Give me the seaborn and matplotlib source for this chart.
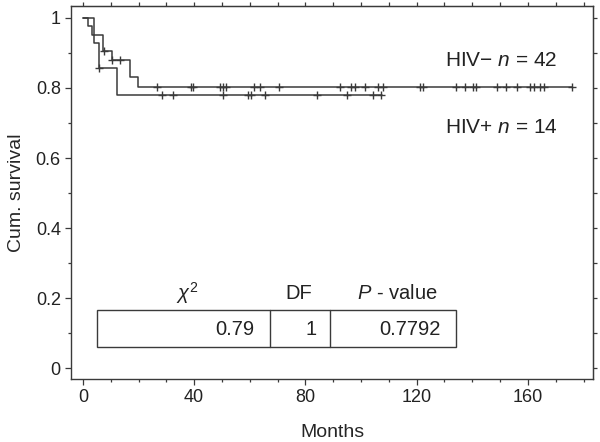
import numpy as np
import pandas as pd
import matplotlib
matplotlib.use('Agg')
import matplotlib.pyplot as plt
from matplotlib.patches import Rectangle
from matplotlib.ticker import MultipleLocator, FormatStrFormatter
import seaborn as sns

# Kaplan-Meier steps: (months, cumulative survival)
NEG_TIMES = [0, 1.9, 3.1, 7.3, 10.3, 16.9, 19.9, 175.7]
NEG_SURV = [1.0, 0.976, 0.952, 0.905, 0.881, 0.830, 0.803, 0.803]
POS_TIMES = [0, 4.0, 5.8, 12.3, 107.6]
POS_SURV = [1.0, 0.929, 0.857, 0.779, 0.779]

# censored observations (months)
NEG_CENSOR = [7.7, 10.5, 13.5, 26.5, 38.8, 39.6, 49.4, 50.3, 51.4, 61.4, 63.8,
              70.5, 92.5, 96.3, 98.0, 101.3, 106.1, 107.8, 121.2, 122.1, 134.2,
              137.3, 140.1, 141.3, 149.0, 152.1, 156.0, 160.8, 162.1, 164.2,
              165.8, 175.7]
POS_CENSOR = [5.8, 28.4, 32.3, 50.3, 59.3, 60.5, 65.4, 84.2, 95.0, 104.2, 107.3]

TABLE_HEADERS = [r'$\chi^2$', 'DF', r'$P$ - value']
TABLE_VALUES = ['0.79', '1', '0.7792']

LINE_COLOR = '#3a3a3a'
TEXT_COLOR = '#222222'


def step_value(times, surv, t):
    """Survival level of the step curve at time t."""
    idx = np.searchsorted(times, t, side='right') - 1
    return np.asarray(surv)[idx]


sns.set_style('ticks')
plt.rcParams['font.family'] = ['Liberation Sans', 'DejaVu Sans']
plt.rcParams['mathtext.fontset'] = 'custom'
plt.rcParams['mathtext.rm'] = 'Liberation Sans'
plt.rcParams['mathtext.it'] = 'Liberation Sans:italic'
plt.rcParams['text.color'] = TEXT_COLOR

fig = plt.figure(figsize=(6, 4.42), dpi=100)
ax = fig.add_axes([0.1183, 0.1425, 0.87, 0.8439])

for times, surv, cens in [(NEG_TIMES, NEG_SURV, NEG_CENSOR), (POS_TIMES, POS_SURV, POS_CENSOR)]:
    curve = pd.DataFrame({'months': times, 'surv': surv})
    sns.lineplot(data=curve, x='months', y='surv', drawstyle='steps-post', estimator=None,
                 sort=False, color=LINE_COLOR, linewidth=1.1, ax=ax)
    marks = pd.DataFrame({'months': cens, 'surv': step_value(times, surv, cens)})
    sns.scatterplot(data=marks, x='months', y='surv', marker='+', color=LINE_COLOR,
                    s=40, linewidth=1.0, ax=ax, zorder=3)

ax.set_xlim(-4.3, 183.4)
ax.set_ylim(-0.031, 1.034)
ax.xaxis.set_major_locator(MultipleLocator(40))
ax.xaxis.set_minor_locator(MultipleLocator(10))
ax.yaxis.set_major_locator(MultipleLocator(0.2))
ax.yaxis.set_minor_locator(MultipleLocator(0.1))
ax.yaxis.set_major_formatter(FormatStrFormatter('%g'))
ax.tick_params(which='major', length=4.3, width=0.9, labelsize=13, colors=LINE_COLOR,
               labelcolor=TEXT_COLOR, pad=3)
ax.tick_params(which='minor', length=2.2, width=0.9, colors=LINE_COLOR)
for sp in ax.spines.values():
    sp.set_visible(True)
    sp.set_color(LINE_COLOR)
    sp.set_linewidth(1.0)

# unlabelled ticks along the top and right edges
top = ax.secondary_xaxis('top')
top.xaxis.set_major_locator(MultipleLocator(10))
top.tick_params(length=3, width=0.9, colors=LINE_COLOR, labeltop=False)
top.spines['top'].set_color(LINE_COLOR)
right = ax.secondary_yaxis('right')
right.yaxis.set_major_locator(MultipleLocator(0.1))
right.tick_params(length=3, width=0.9, colors=LINE_COLOR, labelright=False)
right.spines['right'].set_color(LINE_COLOR)

ax.set_xlabel('Months', fontsize=14, labelpad=13)
ax.set_ylabel('Cum. survival', fontsize=14, labelpad=8)

ax.text(0.717, 0.855, 'HIV\u2212 $n$ = 42', transform=ax.transAxes, fontsize=15,
        ha='left', va='center')
ax.text(0.717, 0.673, 'HIV+ $n$ = 14', transform=ax.transAxes, fontsize=15,
        ha='left', va='center')

# chi-square test box
box_x0, box_x1, box_y0, box_y1 = 0.050, 0.7375, 0.0858, 0.185
ax.add_patch(Rectangle((box_x0, box_y0), box_x1 - box_x0, box_y1 - box_y0,
                       transform=ax.transAxes, fill=False, edgecolor=LINE_COLOR, linewidth=1.0))
for xd in [0.381, 0.496]:
    ax.plot([xd, xd], [box_y0, box_y1], transform=ax.transAxes, color=LINE_COLOR, linewidth=1.0)
for xh, label in zip([0.222, 0.437, 0.626], TABLE_HEADERS):
    ax.text(xh, 0.2306, label, transform=ax.transAxes, fontsize=14.5, ha='center', va='center')
for xv, val in zip([0.351, 0.4706, 0.709], TABLE_VALUES):
    ax.text(xv, 0.133, val, transform=ax.transAxes, fontsize=14.5, ha='right', va='center')

fig.savefig('out.png', dpi=100)
